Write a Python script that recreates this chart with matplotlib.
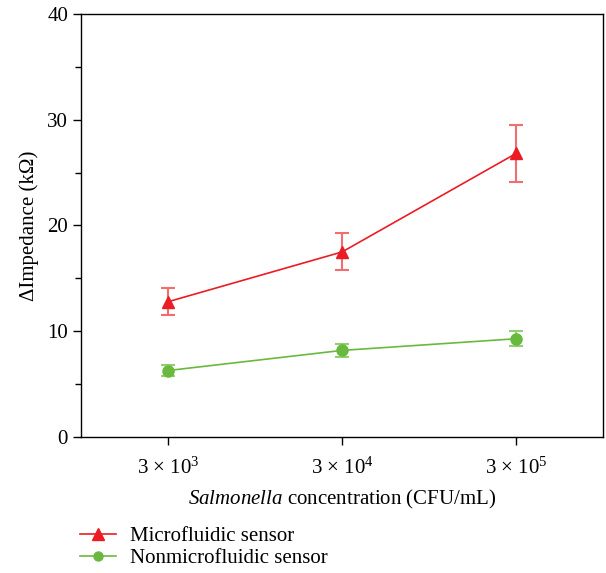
import numpy as np
import matplotlib.pyplot as plt
from matplotlib.ticker import MultipleLocator

plt.rcParams['font.family'] = ['Liberation Serif', 'DejaVu Serif']
plt.rcParams['mathtext.fontset'] = 'custom'
plt.rcParams['mathtext.rm'] = 'Liberation Serif'
plt.rcParams['mathtext.it'] = 'Liberation Serif:italic'

# 数据
conc = ['3 × 10$^3$', '3 × 10$^4$', '3 × 10$^5$']
micro = [12.8, 17.5, 26.8]
micro_err = [1.3, 1.75, 2.65]
nonmicro = [6.3, 8.2, 9.3]
nonmicro_err = [0.5, 0.6, 0.7]

x = np.arange(len(conc))

fig = plt.figure(figsize=(6.06, 5.73), dpi=100)
ax = fig.add_axes([0.134, 0.237, 0.861, 0.739])

red = '#ec1c24'
green = '#6ab93f'
ax.errorbar(x, micro, yerr=micro_err, color=red, ecolor='#f26d6d', marker='^',
            markersize=9, lw=1.2, elinewidth=1.5, capsize=5, capthick=1.5)
ax.errorbar(x, nonmicro, yerr=nonmicro_err, color=green, ecolor='#92cf72', marker='o',
            markersize=8, lw=1.2, elinewidth=1.5, capsize=5, capthick=1.5)

ax.set_xlim(-0.5, 2.5)
ax.set_ylim(0, 40)
ax.set_xticks(x)
ax.set_xticklabels(conc)
ax.yaxis.set_major_locator(MultipleLocator(10))
ax.yaxis.set_minor_locator(MultipleLocator(5))
ax.tick_params(axis='both', which='both', direction='out', labelsize=15, width=1)
ax.tick_params(axis='both', which='major', length=6)
ax.tick_params(axis='y', which='minor', length=4)
ax.tick_params(axis='x', pad=9)
for s in ax.spines.values():
    s.set_linewidth(1.0)

ax.set_ylabel('ΔImpedance (kΩ)', fontsize=15, labelpad=6)
ax.set_xlabel('$\\mathit{Salmonella}$ concentration (CFU/mL)', fontsize=15, labelpad=6)

# 图例（只画线和标记）
h1, = ax.plot([], [], color=red, marker='^', markersize=8, lw=1.2)
h2, = ax.plot([], [], color=green, marker='o', markersize=6.5, lw=1.2)
fig.legend([h1, h2], ['Microfluidic sensor', 'Nonmicrofluidic sensor'],
           loc='upper left', bbox_to_anchor=(0.119, 0.096),
           frameon=False, fontsize=15, handlelength=1.7, labelspacing=0.12,
           borderaxespad=0, handletextpad=0.7)

plt.savefig('out.png', dpi=100)
